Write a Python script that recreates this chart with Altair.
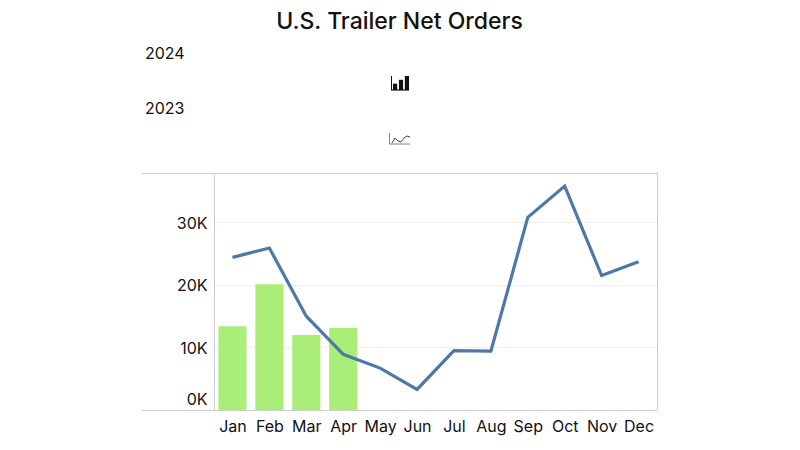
import altair as alt
import pandas as pd

FONT = "Inter"
months = ["Jan", "Feb", "Mar", "Apr", "May", "Jun", "Jul", "Aug", "Sep", "Oct", "Nov", "Dec"]
orders_2023 = [24400, 25900, 15000, 8900, 6700, 3300, 9500, 9400, 30800, 35800, 21500, 23700]
months_2024 = ["Jan", "Feb", "Mar", "Apr"]
orders_2024 = [13400, 20100, 12000, 13100]
y_ticks = [0, 10000, 20000, 30000]
legend_years = ["2024", "2023"]
icon_bar_x = [1, 2, 3]
icon_bar_h = [5, 8, 11]
icon_line_x = [0, 1, 2, 3, 4, 5, 6]
icon_line_y = [0, 5, 2, 1, 5, 7, 6]

df23 = pd.DataFrame({"month": months, "orders": orders_2023})
df24 = pd.DataFrame({"month": months_2024, "orders": orders_2024})
x_scale = alt.Scale(domain=months, paddingInner=0.24, paddingOuter=0.12)
y_scale = alt.Scale(domain=[0, 37900], nice=False)

x_enc = alt.X("month:N", sort=months, scale=x_scale, title=None,
              axis=alt.Axis(labelAngle=0, labelFontSize=16, labelFont=FONT, labelColor="#111111",
                            labelPadding=5, domain=False, tickBand="extent", tickSize=3,
                            tickColor="#f6f6f6", grid=False))
y_enc = alt.Y("orders:Q", scale=y_scale, title=None,
              axis=alt.Axis(values=y_ticks, labelExpr="datum.value / 1000 + 'K'", labelFontSize=16,
                            labelFont=FONT, labelColor="#111111", labelPadding=7, ticks=False,
                            domain=False, gridColor="#f0f0f0", labelFlush=True, labelFlushOffset=-4,
                            labelOffset=1))

bars = alt.Chart(df24).mark_bar(color="#aaee77").encode(x=x_enc, y=y_enc)
line = alt.Chart(df23).mark_line(color="#4e79a7", strokeWidth=3.2).encode(x=x_enc, y=y_enc)
main = alt.layer(bars, line)

anchor = pd.DataFrame({"a": [0]})
BORDER = "#cccccc"
def hrule(py):
    return alt.Chart(anchor).mark_rule(color=BORDER, strokeWidth=1).encode(
        x=alt.value(-72), x2=alt.value(443), y=alt.value(py))
def vrule(px):
    return alt.Chart(anchor).mark_rule(color=BORDER, strokeWidth=1).encode(
        x=alt.value(px), y=alt.value(0), y2=alt.value(237))

def year_label(text, py):
    return alt.Chart(pd.DataFrame({"t": [text]})).mark_text(
        font=FONT, fontSize=16, fontWeight=400, align="left", baseline="alphabetic", color="#111111"
    ).encode(x=alt.value(-69), y=alt.value(py), text="t:N")

# Legend icons: miniature charts, drawn through their own scales
ib = pd.DataFrame({"x": icon_bar_x, "h": icon_bar_h})
icon_bars = alt.Chart(ib).mark_bar(color="#111111").encode(
    x=alt.X("x:O", scale=alt.Scale(range=[179, 195], paddingInner=0.3, paddingOuter=0), axis=None),
    y=alt.Y("h:Q", scale=alt.Scale(domain=[0, 11], range=[-83, -97]), axis=None),
)
il = pd.DataFrame({"x": icon_line_x, "y": icon_line_y})
icon_line = alt.Chart(il).mark_line(color="#333333", strokeWidth=0.9).encode(
    x=alt.X("x:Q", scale=alt.Scale(domain=[0, 6], range=[178, 196]), axis=None),
    y=alt.Y("y:Q", scale=alt.Scale(domain=[0, 7], range=[-30, -37]), axis=None),
)
icon_bar_base = alt.Chart(anchor).mark_rule(color="#111111", strokeWidth=1.2).encode(
    x=alt.value(177), x2=alt.value(195), y=alt.value(-83))
icon_bar_side = alt.Chart(anchor).mark_rule(color="#111111", strokeWidth=1).encode(
    x=alt.value(177.5), y=alt.value(-97), y2=alt.value(-83))
icon_line_base = alt.Chart(anchor).mark_rule(color="#666666", strokeWidth=0.8).encode(
    x=alt.value(175), x2=alt.value(196), y=alt.value(-29))
icon_line_side = alt.Chart(anchor).mark_rule(color="#666666", strokeWidth=0.8).encode(
    x=alt.value(175.5), y=alt.value(-40), y2=alt.value(-29))

chart = alt.layer(
    main, hrule(0.5), hrule(237.5), vrule(0.5), vrule(443.5),
    year_label(legend_years[0], -114), year_label(legend_years[1], -59),
    icon_bars, icon_line, icon_bar_base, icon_bar_side, icon_line_base, icon_line_side,
).resolve_scale(x="independent", y="independent").properties(
    width=443, height=237,
    padding={"left": 206, "top": 165, "right": 100, "bottom": 30},
    autosize=alt.AutoSizeParams(type="none"),
    title=alt.TitleParams("U.S. Trailer Net Orders", font=FONT, fontSize=23, fontWeight=500,
                          color="#111111", anchor="middle", dx=-36, offset=12),
).configure_view(stroke=None)

chart.save("out.html", embed_options={"renderer": "svg", "actions": False})
